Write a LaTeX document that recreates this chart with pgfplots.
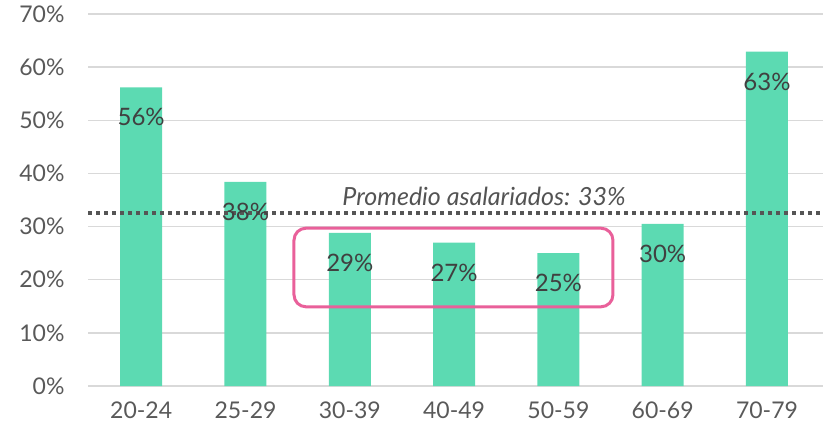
\documentclass[border=0pt]{standalone}
\usepackage{pgfplots}
\pgfplotsset{compat=1.18}
\usepackage{fontspec}
\setmainfont{Lato}
\definecolor{barc}{HTML}{5CDAB2}
\definecolor{gridc}{HTML}{D9D9D9}
\definecolor{tickc}{HTML}{595959}
\definecolor{labc}{HTML}{404040}
\definecolor{pinkc}{HTML}{E9609A}
\definecolor{dotc}{HTML}{555555}
\begin{document}
\begin{tikzpicture}
\path[use as bounding box] (0,0) rectangle (823bp,430bp);
\begin{axis}[
  at={(88bp,44bp)}, anchor=south west,
  x=104.3bp, y=5.314bp,
  xmin=-0.51, xmax=6.54, ymin=0, ymax=70,
  axis line style={draw=none},
  major tick length=0pt,
  ymajorgrids, grid style={gridc, line width=1.5bp},
  ytick={0,10,...,70},
  yticklabel={\pgfmathprintnumber{\tick}\%},
  xtick={0,...,6},
  xticklabels={20-24,25-29,30-39,40-49,50-59,60-69,70-79},
  /pgf/number format/assume math mode=true,
  tick label style={font=\fontsize{23bp}{27bp}\selectfont, text=tickc},
  yticklabel style={xshift=-20bp},
  xticklabel style={yshift=-12bp},
  clip=false,
]
\addplot[ybar, bar width=42bp, fill=barc, draw=none,
  point meta=explicit,
  nodes near coords={\pgfmathprintnumber[fixed,precision=0]{\pgfplotspointmeta}\%},
  every node near coord/.append style={anchor=center, yshift=-30bp, text=labc, font=\fontsize{24bp}{28bp}\selectfont}]
  coordinates {(0,56.2)[56] (1,38.4)[38] (2,28.8)[29] (3,27.0)[27] (4,25.0)[25] (5,30.5)[30] (6,62.9)[63]};
\addplot[dotc, line width=3.5bp, dash pattern=on 4bp off 4bp, mark=none]
  coordinates {(-0.51,32.6) (6.54,32.6)};
\node[text=labc!90, font=\fontsize{25bp}{29bp}\selectfont\itshape] at (axis cs:3.287,35.6) {Promedio asalariados: 33\%};
\draw[pinkc, line width=3bp, rounded corners=12bp] (axis cs:1.465,14.9) rectangle (axis cs:4.523,29.7);
\end{axis}
\end{tikzpicture}
\end{document}
